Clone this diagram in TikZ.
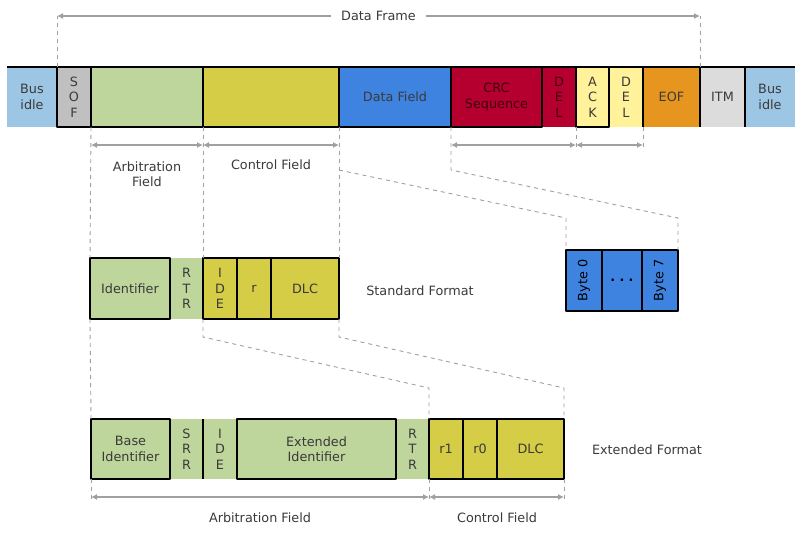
\documentclass[tikz,border=0pt]{standalone}
\usepackage{fontspec}
\setmainfont{DejaVu Sans}
\usetikzlibrary{arrows.meta}
\definecolor{busblue}{HTML}{9DC6E4}
\definecolor{sofgray}{HTML}{C0C0C0}
\definecolor{arbgreen}{HTML}{BED59C}
\definecolor{ctrlyellow}{HTML}{D4CD45}
\definecolor{datablue}{HTML}{3F83E0}
\definecolor{crcred}{HTML}{B5002F}
\definecolor{crctext}{HTML}{3E0010}
\definecolor{ackyellow}{HTML}{FFF29B}
\definecolor{eoforange}{HTML}{E6961F}
\definecolor{itmgray}{HTML}{DCDCDC}
\definecolor{txtgray}{HTML}{3A3A3A}
\definecolor{dimgray}{HTML}{A0A0A0}

\begin{document}
\begin{tikzpicture}[x=1pt, y=-1pt, line join=round,
  cell/.style={inner sep=0pt, outer sep=0pt, anchor=north west, align=center,
    text=txtgray, font=\fontsize{12.8}{15.5}\selectfont},
  boxed/.style={cell, draw=black, line width=1.8pt},
  frame/.style={draw=black, line width=1.8pt},
  dimline/.style={draw=dimgray, line width=1.1pt,
    {Latex[length=6pt,width=6pt]}-{Latex[length=6pt,width=6pt]}},
  guide/.style={draw=dimgray, line width=0.9pt, dash pattern=on 4pt off 4pt},
  lbl/.style={text=txtgray, font=\fontsize{12.8}{15.5}\selectfont, align=center, inner sep=1pt}]
  \useasboundingbox (0,0) rectangle (811,539);

  % frame row
  \node[cell, fill=busblue, minimum width=50pt, minimum height=60pt] (busa) at (7,67) {Bus\\idle};
  \node[cell, fill=crcred, text=crctext, minimum width=34pt, minimum height=60pt] (dela) at (542,67) {D\\E\\L};
  \node[cell, fill=ackyellow, minimum width=34pt, minimum height=60pt] (delb) at (609,67) {D\\E\\L};
  \node[cell, fill=eoforange, minimum width=57pt, minimum height=60pt] (eof) at (643,67) {EOF};
  \node[cell, fill=itmgray, minimum width=45pt, minimum height=60pt] (itm) at (700,67) {ITM};
  \node[cell, fill=busblue, minimum width=50pt, minimum height=60pt] (busb) at (745,67) {Bus\\idle};
  \node[boxed, fill=sofgray, minimum width=34pt, minimum height=60pt] (sof) at (57,67) {S\\O\\F};
  \node[boxed, fill=arbgreen, minimum width=112pt, minimum height=60pt] (arb) at (91,67) {};
  \node[boxed, fill=ctrlyellow, minimum width=136pt, minimum height=60pt] (ctrl) at (203,67) {};
  \node[boxed, fill=datablue, minimum width=112pt, minimum height=60pt] (data) at (339,67) {Data Field};
  \node[boxed, fill=crcred, text=crctext, minimum width=91pt, minimum height=60pt] (crc) at (451,67) {CRC\\Sequence};
  \node[boxed, fill=ackyellow, minimum width=33pt, minimum height=60pt] (ack) at (576,67) {A\\C\\K};
  \draw[frame] (busa.north west) -- (busb.north east);
  \draw[frame] (delb.north east) -- (delb.south east);
  \draw[frame] (eof.north east) -- (eof.south east);
  \draw[frame] (itm.north east) -- (itm.south east);

  % standard format
  \node[cell, fill=arbgreen, minimum width=33pt, minimum height=61pt] (rtrs) at (170,258) {R\\T\\R};
  \node[boxed, fill=arbgreen, minimum width=80pt, minimum height=61pt] (ids) at (90,258) {Identifier};
  \node[boxed, fill=ctrlyellow, minimum width=34pt, minimum height=61pt] (ides) at (203,258) {I\\D\\E};
  \node[boxed, fill=ctrlyellow, minimum width=34pt, minimum height=61pt] (rs) at (237,258) {r};
  \node[boxed, fill=ctrlyellow, minimum width=68pt, minimum height=61pt] (dlcs) at (271,258) {DLC};
  \node[lbl] (stdfmt) at (420,291) {Standard Format};

  % extended format
  \node[cell, fill=arbgreen, minimum width=33pt, minimum height=60pt] (srre) at (170,419) {S\\R\\R};
  \node[cell, fill=arbgreen, minimum width=34pt, minimum height=60pt] (idee) at (203,419) {I\\D\\E};
  \node[cell, fill=arbgreen, minimum width=33pt, minimum height=60pt] (rtre) at (396,419) {R\\T\\R};
  \node[boxed, fill=arbgreen, minimum width=79pt, minimum height=60pt] (basee) at (91,419) {Base\\Identifier};
  \node[boxed, fill=arbgreen, minimum width=159pt, minimum height=60pt] (exte) at (237,419) {Extended\\Identifier};
  \node[boxed, fill=ctrlyellow, minimum width=34pt, minimum height=60pt] (r1e) at (429,419) {r1};
  \node[boxed, fill=ctrlyellow, minimum width=34pt, minimum height=60pt] (r0e) at (463,419) {r0};
  \node[boxed, fill=ctrlyellow, minimum width=67pt, minimum height=60pt] (dlce) at (497,419) {DLC};
  \draw[frame] (srre.north east) -- (srre.south east);
  \node[lbl] (extfmt) at (647,450) {Extended Format};

  % data bytes
  \node[boxed, fill=datablue, text=black, line width=1.4pt, minimum width=36pt, minimum height=61pt] (byte0) at (566,250) {\rotatebox{90}{Byte 0}};
  \node[boxed, fill=datablue, text=black, line width=1.4pt, minimum width=40pt, minimum height=61pt] (bdots) at (602,250) {\textbf{.\,\,.\,\,.}};
  \node[boxed, fill=datablue, text=black, line width=1.4pt, minimum width=36pt, minimum height=61pt] (byte7) at (642,250) {\rotatebox{90}{Byte 7}};

  % data frame span
  \coordinate (dfl) at (57,16);
  \coordinate (dfr) at (700,16);
  \draw[guide] (sof.north west) -- (dfl);
  \draw[guide] (eof.north east) -- (dfr);
  \draw[dimline] (dfl) -- node[lbl, fill=white, inner xsep=10pt] (dflbl) {Data Frame} (dfr);

  % spans under the frame row
  \coordinate (ta) at (91,145);
  \coordinate (tb) at (203,145);
  \coordinate (tc) at (339,145);
  \coordinate (td) at (451,145);
  \coordinate (te) at (576,145);
  \coordinate (tf) at (643,145);
  \coordinate (tg) at (576,151);
  \coordinate (th) at (643,151);
  \draw[guide] (ack.south west) -- (tg);
  \draw[guide] (delb.south east) -- (th);
  \draw[dimline] (ta) -- (tb);
  \draw[dimline] (tb) -- (tc);
  \draw[dimline] (td) -- (te);
  \draw[dimline] (te) -- (tf);
  \node[lbl] (arblbl) at (147,174) {Arbitration\\Field};
  \node[lbl] (ctrllbl) at (271,165) {Control Field};

  % guides frame row -> standard format and bytes
  \draw[guide] (arb.south west) -- (ids.north west);
  \draw[guide] (arb.south east) -- (ides.north west);
  \draw[guide] (ctrl.south east) -- (dlcs.north east);
  \coordinate (k1) at (339,170);
  \coordinate (k2) at (566,218);
  \coordinate (k3) at (451,170);
  \coordinate (k4) at (678,218);
  \draw[guide] (k1) -- (k2) -- (byte0.north west);
  \draw[guide] (crc.south west) -- (k3) -- (k4) -- (byte7.north east);

  % guides standard -> extended format
  \coordinate (k5) at (203,337);
  \coordinate (k6) at (429,388);
  \coordinate (k7) at (339,337);
  \coordinate (k8) at (564,388);
  \draw[guide] (ids.south west) -- (basee.north west);
  \draw[guide] (ides.south west) -- (k5) -- (k6) -- (r1e.north west);
  \draw[guide] (dlcs.south east) -- (k7) -- (k8) -- (dlce.north east);

  % spans under the extended format
  \coordinate (ea) at (91,497);
  \coordinate (eb) at (429,497);
  \coordinate (ec) at (564,497);
  \coordinate (ea2) at (91,502);
  \coordinate (eb2) at (429,502);
  \coordinate (ec2) at (564,502);
  \draw[guide] (basee.south west) -- (ea2);
  \draw[guide] (r1e.south west) -- (eb2);
  \draw[guide] (dlce.south east) -- (ec2);
  \draw[dimline] (ea) -- (eb);
  \draw[dimline] (eb) -- (ec);
  \node[lbl] (arblbl2) at (260,518) {Arbitration Field};
  \node[lbl] (ctrllbl2) at (497,518) {Control Field};
\end{tikzpicture}
\end{document}
